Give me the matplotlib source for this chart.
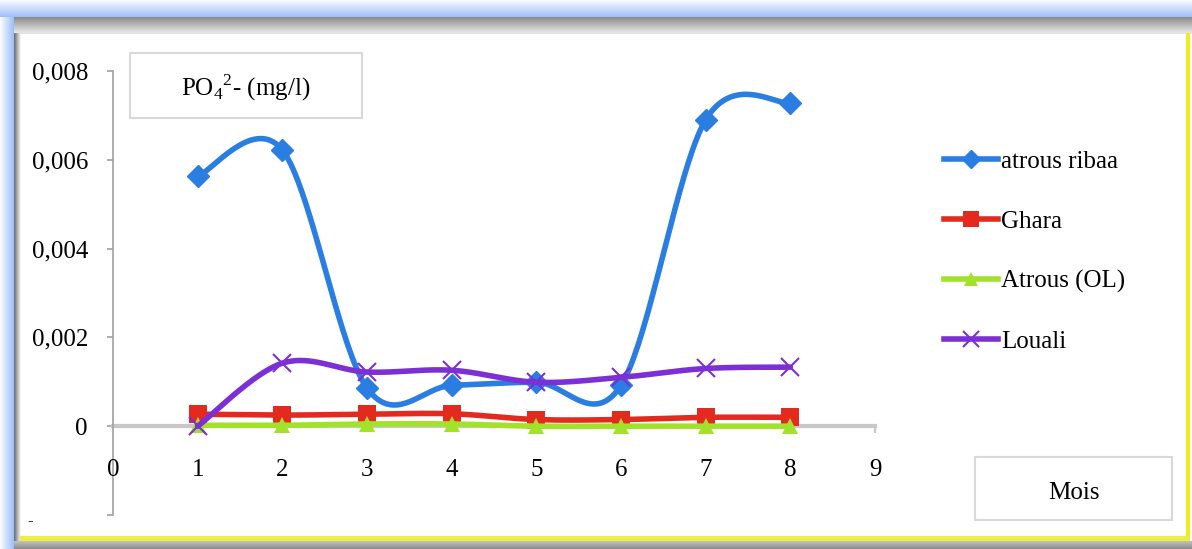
import numpy as np
import matplotlib.pyplot as plt
from matplotlib.patches import Rectangle
from matplotlib.lines import Line2D

plt.rcParams['font.family'] = ['Liberation Serif', 'DejaVu Serif']
plt.rcParams['mathtext.fontset'] = 'custom'
plt.rcParams['mathtext.rm'] = 'Liberation Serif'

# monthly PO4 readings per site
mois = [1, 2, 3, 4, 5, 6, 7, 8]
atrous_ribaa = [0.00563, 0.00622, 0.00086, 0.00092, 0.00099, 0.00092, 0.00690, 0.00728]
ghara = [0.00027, 0.00025, 0.00027, 0.00028, 0.00015, 0.00015, 0.00020, 0.00020]
atrous_ol = [0.00002, 0.00002, 0.00005, 0.00005, 0.0, 0.0, 0.0, 0.0]
louali = [0.0, 0.00142, 0.00122, 0.00126, 0.00099, 0.00110, 0.00130, 0.00133]

y_ticks = [0.008, 0.006, 0.004, 0.002, 0.0]
y_labels = ['0,008', '0,006', '0,004', '0,002', '0']

W, H = 1192, 549
FS = 18


def fx(px):
    return px / W


def fy(py):
    return 1 - py / H


def smooth(x, y, n=40):
    # Bezier smoothing through every point (same style as spreadsheet "smoothed line")
    p = np.column_stack([x, y]).astype(float)
    pts = np.vstack([p[0], p, p[-1]])
    out = []
    for i in range(1, len(pts) - 2):
        p0, p1, p2, p3 = pts[i - 1], pts[i], pts[i + 1], pts[i + 2]
        c1 = p1 + (p2 - p0) / 6
        c2 = p2 - (p3 - p1) / 6
        t = np.linspace(0, 1, n)[:, None]
        seg = (1 - t) ** 3 * p1 + 3 * (1 - t) ** 2 * t * c1 + 3 * (1 - t) * t ** 2 * c2 + t ** 3 * p2
        out.append(seg)
    out = np.vstack(out)
    return out[:, 0], out[:, 1]


fig = plt.figure(figsize=(W / 100, H / 100), dpi=100)
fig.patch.set_facecolor('white')


def frame_rect(x0, y0, x1, y1, color, z=0):
    fig.add_artist(Rectangle((fx(x0), fy(y1)), fx(x1 - x0), (y1 - y0) / H,
                             transform=fig.transFigure, facecolor=color,
                             edgecolor='none', zorder=z))


def glow(t):
    # white -> soft blue
    return (np.interp(t, [0, 1], [0.97, 0.62]),
            np.interp(t, [0, 1], [0.98, 0.75]),
            np.interp(t, [0, 1], [1.0, 0.97]))


# window frame: blue glow, inner shadow, yellow border
for i in range(17):
    frame_rect(0, i, W, i + 1, glow(i / 16))
for i in range(14):
    frame_rect(i, 17, i + 1, H, glow(i / 13))
for i in range(16):
    g = np.interp(i, [0, 15], [0.55, 0.9])
    frame_rect(14, 17 + i, W, 18 + i, (g, g, g))
for i in range(7):
    g = np.interp(i, [0, 6], [0.45, 0.95])
    frame_rect(14 + i, 33, 15 + i, H, (g, g, g))
frame_rect(20, 32, W, 34, '#e4e4e4')
frame_rect(1186, 33, 1190, 541, '#eeee1c', 1)
frame_rect(20, 536, 1190, 541, '#eeee40', 1)
for i in range(8):
    g = np.interp(i, [0, 7], [0.75, 0.55])
    frame_rect(14, 541 + i, W, 542 + i, (g, g, g))

# plot area
ax = fig.add_axes([fx(113), fy(515), fx(875 - 113), (515 - 71) / H])
ax.set_xlim(0, 9)
ax.set_ylim(-0.002, 0.008)
ax.patch.set_alpha(0)

series = [
    (atrous_ribaa, 'atrous ribaa', '#2a7de1', 'D', 11, 1),
    (ghara, 'Ghara', '#e42a1e', 's', 13, 0),
    (atrous_ol, 'Atrous (OL)', '#a2e22a', '^', 12, 0),
    (louali, 'Louali', '#7b2fd4', 'x', 13, 1.5),
]
handles = []
for k, (vals, name, col, mk, ms, mew) in enumerate(series):
    sx, sy = smooth(mois, vals)
    ax.plot(sx, sy, color=col, lw=4, solid_capstyle='round', zorder=3 + k)
    ax.plot(mois, vals, linestyle='none', marker=mk, markersize=ms,
            color=col, markeredgecolor=col, markeredgewidth=mew, zorder=3 + k)
    handles.append(Line2D([0], [0], color=col, lw=4, marker=mk, markersize=ms * 0.85,
                          markeredgecolor=col, markeredgewidth=mew, label=name))

for s in ['top', 'right']:
    ax.spines[s].set_visible(False)
ax.spines['left'].set_color('#a0a0a0')
ax.spines['left'].set_linewidth(1.2)
ax.spines['bottom'].set_position(('data', 0))
ax.spines['bottom'].set_color('#c8c8c8')
ax.spines['bottom'].set_linewidth(3)
ax.spines['bottom'].set_zorder(2)

ax.set_yticks(y_ticks + [-0.002])
ax.set_yticklabels(y_labels + [''])
ax.tick_params(axis='y', length=4, width=1.2, color='#a0a0a0', pad=14, labelsize=FS)
ax.set_xticks([9])
ax.set_xticklabels([])
ax.tick_params(axis='x', length=5, width=1.5, color='#c8c8c8', direction='out')

for m in range(10):
    ax.text(m, -0.00099, str(m), ha='center', va='center', fontsize=FS, zorder=8)

fig.text(fx(30), fy(521), '-', fontsize=12, ha='center', va='center')

# title box
fig.add_artist(Rectangle((fx(130), fy(118)), fx(362 - 130), (118 - 53) / H,
                         transform=fig.transFigure, facecolor='white',
                         edgecolor='#d8d8d8', lw=1.5, zorder=5))
fig.text(fx(246), fy(88), r'PO$_\mathrm{4}$$^\mathrm{2}$- (mg/l)', fontsize=FS,
         ha='center', va='center', zorder=6)

# axis name box
fig.add_artist(Rectangle((fx(975), fy(520)), fx(1172 - 975), (520 - 457) / H,
                         transform=fig.transFigure, facecolor='white',
                         edgecolor='#d8d8d8', lw=1.5, zorder=5))
fig.text(fx(1074), fy(493), 'Mois', fontsize=FS, ha='center', va='center', zorder=6)

fig.legend(handles=handles, loc='upper left', bbox_to_anchor=(fx(934), fy(140)),
           frameon=False, fontsize=FS, handlelength=2.15, handletextpad=0.12,
           labelspacing=1.5, borderaxespad=0)

fig.savefig('out.png', dpi=100)
